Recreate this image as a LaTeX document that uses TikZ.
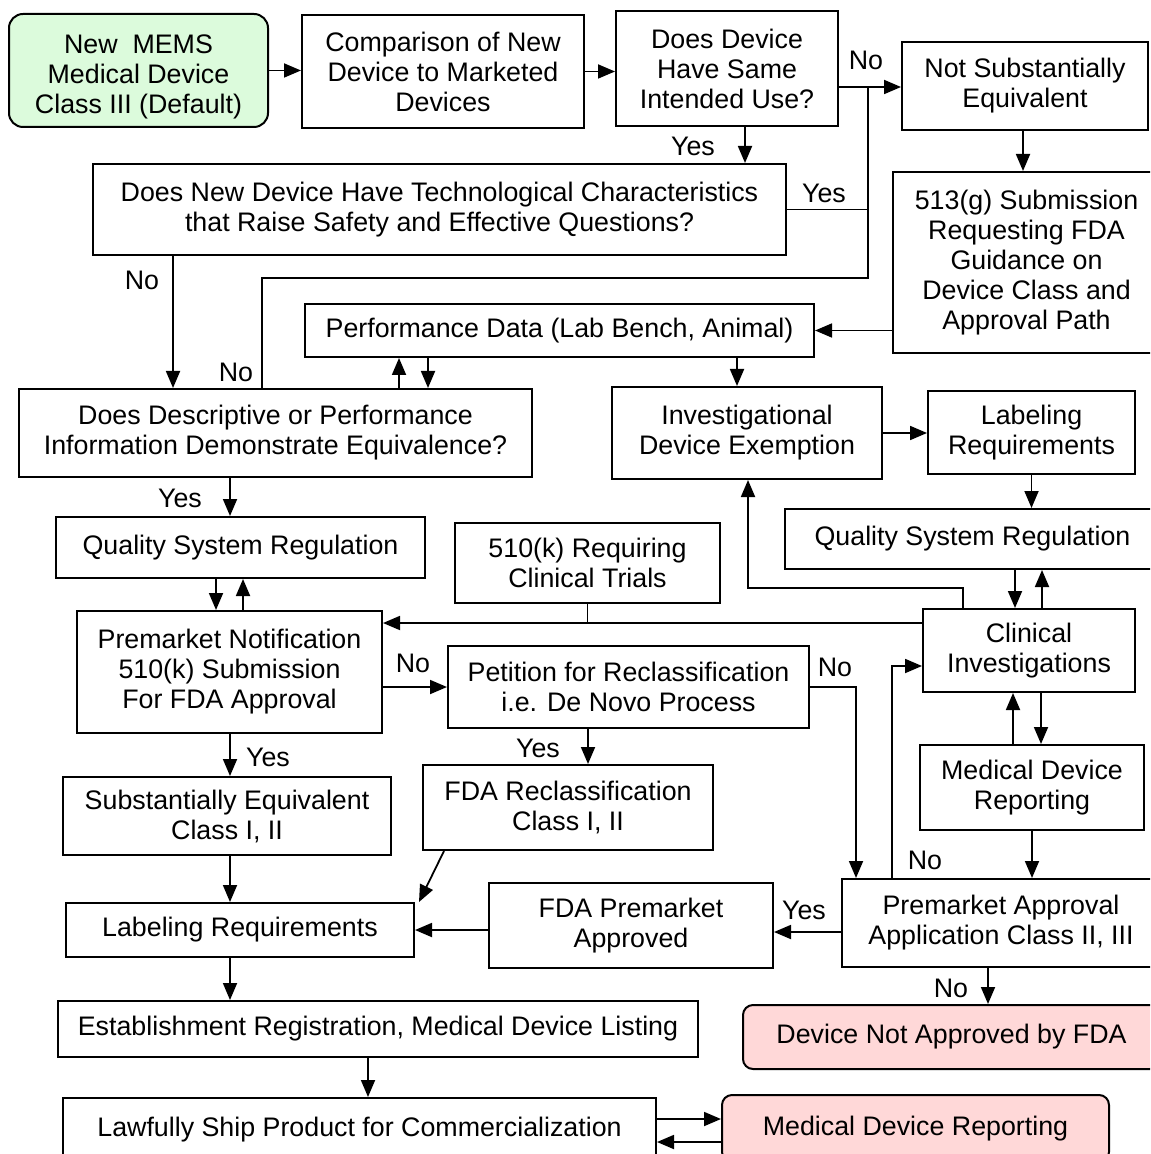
\documentclass[tikz,border=0pt]{standalone}
\usepackage{fontspec}
\setmainfont{Liberation Sans}
\usetikzlibrary{arrows.meta}
\definecolor{startgreen}{HTML}{DCFBDC}
\definecolor{endpink}{HTML}{FFD8D8}
\tikzset{
  box/.style={draw=black, line width=1pt, fill=white, inner sep=0pt, align=center,
    font=\fontsize{13.4}{15}\selectfont},
  wh/.style 2 args={minimum width=#1*0.5pt, minimum height=#2*0.5pt},
  greenbox/.style={box, fill=startgreen, rounded corners=7pt},
  pinkbox/.style={box, fill=endpink, rounded corners=5pt},
  conn/.style={line width=0.9pt, draw=black},
  arr/.style={conn, -{Triangle[length=8.5pt,width=7pt]}},
  lbl/.style={inner sep=0pt, font=\fontsize{13.4}{15}\selectfont},
}
\begin{document}
\begin{tikzpicture}[x=0.5pt, y=-0.5pt]
\useasboundingbox (0,0) rectangle (1150,1154);
\clip (0,0) rectangle (1150,1154);
\fill[white] (0,0) rectangle (1150,1154);

% column / row helper coordinates
\foreach \c in {173,216,230,243,262,368,399,428,444,588,737,745,748,856,868,892,963,988,1013,1015,1023,1041,1042}
  {\coordinate (c\c) at (\c,0);}
\foreach \r in {87,278,623,666,932,1119,1142}
  {\coordinate (r\r) at (0,\r);}

% nodes
\node[greenbox, wh={259}{113}] (mems) at (138.5,70.5) {\raisebox{-7pt}[0pt][0pt]{\parbox{120pt}{\centering New\ \ MEMS\\Medical Device\\Class III (Default)}}};
\node[box, wh={282}{113}] (comp) at (443,71.5) {Comparison of New\\Device to Marketed\\Devices};
\node[box, wh={222}{115}] (same) at (727,68.5) {Does Device\\Have Same\\Intended Use?};
\node[box, wh={246}{88}] (nse) at (1025,86) {Not Substantially\\Equivalent};
\node[box, wh={693}{91}] (tech) at (439.5,209.5) {Does New Device Have Technological Characteristics\\that Raise Safety and Effective Questions?};
\node[box, wh={267}{181}] (g513) at (1026.5,262.5) {513(g) Submission\\Requesting FDA\\Guidance on\\Device Class and\\Approval Path};
\node[box, wh={509}{53}] (perf) at (559.5,330.5) {Performance Data (Lab Bench, Animal)};
\node[box, wh={513}{88}] (desc) at (275.5,433) {Does Descriptive or Performance\\Information Demonstrate Equivalence?};
\node[box, wh={270}{92}] (ide) at (747,433) {Investigational\\Device Exemption};
\node[box, wh={207}{83}] (labr) at (1031.5,432.5) {Labeling\\Requirements};
\node[box, wh={375}{60}] (qsrr) at (972.5,539) {Quality System Regulation};
\node[box, wh={369}{61}] (qsrl) at (240.5,547.5) {Quality System Regulation};
\node[box, wh={265}{80}] (k510) at (587.5,563) {510(k) Requiring\\Clinical Trials};
\node[box, wh={305}{122}] (pmn) at (229.5,672) {Premarket Notification\\510(k) Submission\\For FDA Approval};
\node[box, wh={361}{82}] (pet) at (628.5,687) {Petition for Reclassification\\i.e. De Novo Process};
\node[box, wh={212}{83}] (clin) at (1029,650.5) {Clinical\\Investigations};
\node[box, wh={224}{85}] (mdrr) at (1032,787.5) {Medical Device\\Reporting};
\node[box, wh={328}{78}] (se) at (227,816) {Substantially Equivalent\\Class I, II};
\node[box, wh={290}{85}] (fdarc) at (568,807.5) {FDA Reclassification\\Class I, II};
\node[box, wh={348}{54}] (labl) at (240,930) {Labeling Requirements};
\node[box, wh={284}{85}] (fdapa) at (631,925.5) {FDA Premarket\\Approved};
\node[box, wh={318}{88}] (pma) at (1001,923) {Premarket Approval\\Application Class II, III};
\node[pinkbox, wh={417}{64}] (dna) at (951.5,1037) {Device Not Approved by FDA};
\node[box, wh={640}{56}] (est) at (378,1029) {Establishment Registration, Medical Device Listing};
\node[box, wh={593}{64}] (ship) at (359.5,1130) {\raisebox{2.5pt}{Lawfully Ship Product for Commercialization}};
\node[pinkbox, wh={387}{67}] (mdrp) at (915.5,1128.5) {\raisebox{2.5pt}{Medical Device Reporting}};

% connectors
\draw[arr] (mems.east) -- (mems.east -| comp.west);
\draw[arr] (comp.east) -- (comp.east -| same.west);
\coordinate (jA) at (868,87);
\coordinate (jB) at (868,278);
\draw[arr] (same.east |- r87) -- (nse.west |- r87);
\draw[conn] (tech.east) -- (tech.east -| jA);
\draw[conn] (desc.north -| c262) |- (jB) -- (jA);
\draw[arr] (same.south -| c745) -- (tech.north -| c745);
\draw[arr] (nse.south -| c1023) -- (g513.north -| c1023);
\draw[arr] (g513.west |- perf.east) -- (perf.east);
\draw[arr] (tech.south -| c173) -- (desc.north -| c173);
\draw[arr] (desc.north -| c399) -- (perf.south -| c399);
\draw[arr] (perf.south -| c428) -- (desc.north -| c428);
\draw[arr] (perf.south -| c737) -- (ide.north -| c737);
\draw[arr] (ide.east) -- (ide.east -| labr.west);
\draw[arr] (labr.south) -- (labr.south |- qsrr.north);
\draw[arr] (qsrr.south -| c1015) -- (clin.north -| c1015);
\draw[arr] (clin.north -| c1042) -- (qsrr.south -| c1042);
\draw[arr] (clin.north -| c963) -- ++(0,-20) -| (ide.south -| c748);
\draw[arr] (clin.west |- r623) -- (pmn.east |- r623);
\draw[conn] (k510.south) -- (k510.south |- r623);
\draw[arr] (desc.south -| c230) -- (qsrl.north -| c230);
\draw[arr] (qsrl.south -| c216) -- (pmn.north -| c216);
\draw[arr] (pmn.north -| c243) -- (qsrl.south -| c243);
\draw[arr] (pmn.east |- pet.west) -- (pet.west);
\draw[arr] (pet.east) -| (pma.north -| c856);
\draw[arr] (pma.north -| c892) |- (clin.west |- r666);
\draw[arr] (mdrr.north -| c1013) -- (clin.south -| c1013);
\draw[arr] (clin.south -| c1041) -- (mdrr.north -| c1041);
\draw[arr] (mdrr.south) -- (mdrr.south |- pma.north);
\draw[arr] (pet.south -| c588) -- (fdarc.north -| c588);
\draw[arr] (pmn.south -| c230) -- (se.north -| c230);
\draw[arr] (se.south -| c230) -- (labl.north -| c230);
\draw[arr] (fdarc.south -| c444) -- ([xshift=2pt]labl.north east);
\draw[arr] (pma.west |- r932) -- (fdapa.east |- r932);
\draw[arr] (fdapa.west |- labl.east) -- (labl.east);
\draw[arr] (labl.south -| c230) -- (est.north -| c230);
\draw[arr] (pma.south -| c988) -- (dna.north -| c988);
\draw[arr] (est.south -| c368) -- (ship.north -| c368);
\draw[arr] (ship.east |- r1119) -- (mdrp.west |- r1119);
\draw[arr] (mdrp.west |- r1142) -- (ship.east |- r1142);

% labels
\node[lbl] (l1) at (866,60) {No};
\node[lbl] (l2) at (693,146) {Yes};
\node[lbl] (l3) at (824,193) {Yes};
\node[lbl] (l4) at (142,280) {No};
\node[lbl] (l5) at (236,372) {No};
\node[lbl] (l6) at (180,498) {Yes};
\node[lbl] (l7) at (413,663) {No};
\node[lbl] (l8) at (835,667) {No};
\node[lbl] (l9) at (538,748) {Yes};
\node[lbl] (l10) at (268,757) {Yes};
\node[lbl] (l11) at (925,860) {No};
\node[lbl] (l12) at (804,910) {Yes};
\node[lbl] (l13) at (951,988) {No};
\end{tikzpicture}
\end{document}
